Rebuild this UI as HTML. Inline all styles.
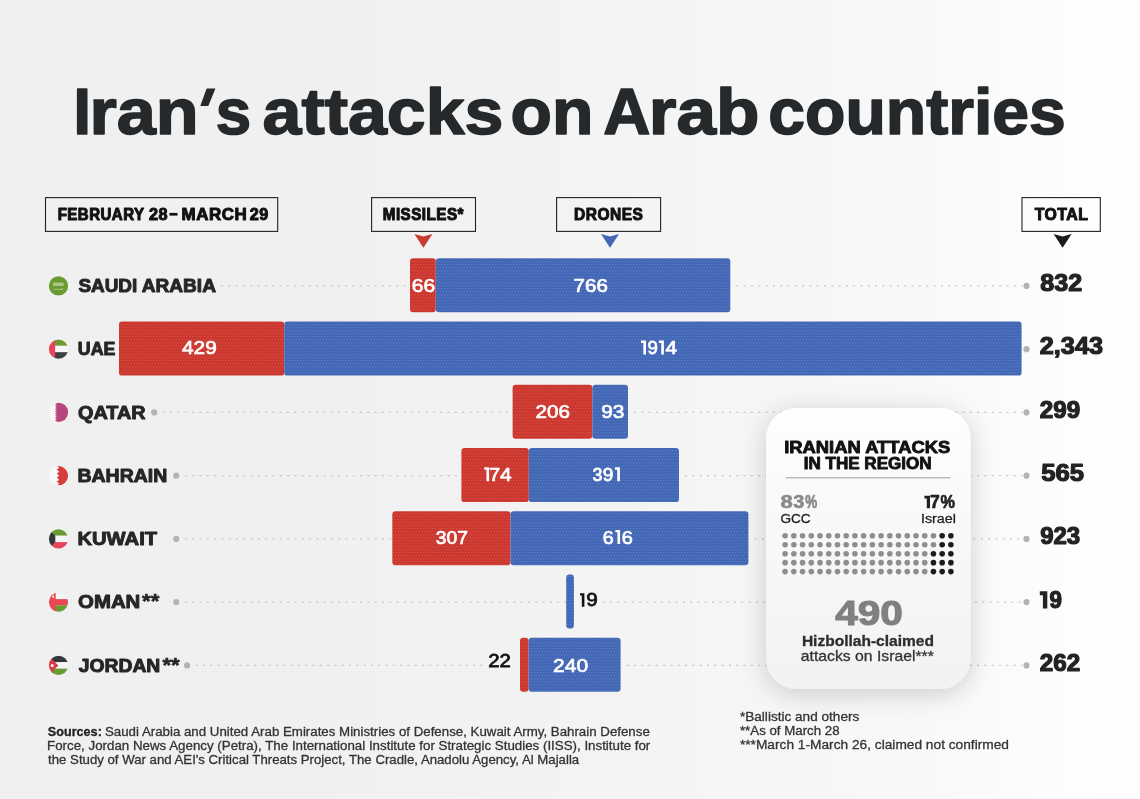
<!DOCTYPE html>
<html><head><meta charset="utf-8"><title>Iran's attacks on Arab countries</title>
<style>
html,body{margin:0;padding:0}
body{width:1140px;height:799px;overflow:hidden;position:relative;font-family:"Liberation Sans",sans-serif;font-weight:700;
background:linear-gradient(90deg,#f0f0f0 0px,#f0f0f0 280px,#f3f3f3 560px,#f8f8f8 900px,#fefefe 1100px,#fefefe 1140px)}
svg{position:absolute;left:0;top:0}
</style></head><body>
<svg width="1140" height="799" viewBox="0 0 1140 799">
<defs>
<pattern id="pr" width="6" height="6" patternUnits="userSpaceOnUse"><rect width="6" height="6" fill="#c9372f"/><g fill="#dc4c42"><circle cx="0.75" cy="0.75" r="0.8"/><circle cx="3.75" cy="0.75" r="0.8"/><circle cx="2.25" cy="3.75" r="0.8"/><circle cx="5.25" cy="3.75" r="0.8"/></g></pattern>
<pattern id="pb" width="6" height="6" patternUnits="userSpaceOnUse"><rect width="6" height="6" fill="#4266b3"/><g fill="#567dc7"><circle cx="0.75" cy="0.75" r="0.8"/><circle cx="3.75" cy="0.75" r="0.8"/><circle cx="2.25" cy="3.75" r="0.8"/><circle cx="5.25" cy="3.75" r="0.8"/></g></pattern>
<linearGradient id="cg" x1="0" y1="0" x2="0" y2="1"><stop offset="0" stop-color="#fefefe"/><stop offset="0.45" stop-color="#f8f8f8"/><stop offset="1" stop-color="#f2f2f2"/></linearGradient>
<filter id="sh" x="-40%" y="-30%" width="180%" height="160%"><feDropShadow dx="0" dy="5" stdDeviation="13" flood-color="#000" flood-opacity="0.18"/></filter>
<clipPath id="fc"><circle cx="0" cy="0" r="9.6"/></clipPath>
</defs>
<line x1="221.0" y1="285.9" x2="410.0" y2="285.9" stroke="#c9c9c9" stroke-width="1.3" stroke-dasharray="2.2 5.1"/>
<line x1="736.3" y1="285.9" x2="1022.0" y2="285.9" stroke="#c9c9c9" stroke-width="1.3" stroke-dasharray="2.2 5.1"/>
<circle cx="1026.5" cy="285.9" r="3.1" fill="#b4b4b4"/>
<circle cx="1026.5" cy="349.2" r="3.1" fill="#b4b4b4"/>
<line x1="162.7" y1="412.4" x2="512.6" y2="412.4" stroke="#c9c9c9" stroke-width="1.3" stroke-dasharray="2.2 5.1"/>
<circle cx="154.2" cy="412.4" r="3.1" fill="#b4b4b4"/>
<line x1="634.0" y1="412.4" x2="1022.0" y2="412.4" stroke="#c9c9c9" stroke-width="1.3" stroke-dasharray="2.2 5.1"/>
<circle cx="1026.5" cy="412.4" r="3.1" fill="#b4b4b4"/>
<line x1="184.8" y1="475.7" x2="461.4" y2="475.7" stroke="#c9c9c9" stroke-width="1.3" stroke-dasharray="2.2 5.1"/>
<circle cx="176.3" cy="475.7" r="3.1" fill="#b4b4b4"/>
<line x1="685.0" y1="475.7" x2="1022.0" y2="475.7" stroke="#c9c9c9" stroke-width="1.3" stroke-dasharray="2.2 5.1"/>
<circle cx="1026.5" cy="475.7" r="3.1" fill="#b4b4b4"/>
<line x1="184.8" y1="538.9" x2="392.3" y2="538.9" stroke="#c9c9c9" stroke-width="1.3" stroke-dasharray="2.2 5.1"/>
<circle cx="176.3" cy="538.9" r="3.1" fill="#b4b4b4"/>
<line x1="754.4" y1="538.9" x2="1022.0" y2="538.9" stroke="#c9c9c9" stroke-width="1.3" stroke-dasharray="2.2 5.1"/>
<circle cx="1026.5" cy="538.9" r="3.1" fill="#b4b4b4"/>
<line x1="184.8" y1="602.1" x2="566.2" y2="602.1" stroke="#c9c9c9" stroke-width="1.3" stroke-dasharray="2.2 5.1"/>
<circle cx="176.3" cy="602.1" r="3.1" fill="#b4b4b4"/>
<line x1="602.5" y1="602.1" x2="1022.0" y2="602.1" stroke="#c9c9c9" stroke-width="1.3" stroke-dasharray="2.2 5.1"/>
<circle cx="1026.5" cy="602.1" r="3.1" fill="#b4b4b4"/>
<line x1="195.6" y1="665.4" x2="484.0" y2="665.4" stroke="#c9c9c9" stroke-width="1.3" stroke-dasharray="2.2 5.1"/>
<circle cx="187.1" cy="665.4" r="3.1" fill="#b4b4b4"/>
<line x1="626.6" y1="665.4" x2="1022.0" y2="665.4" stroke="#c9c9c9" stroke-width="1.3" stroke-dasharray="2.2 5.1"/>
<circle cx="1026.5" cy="665.4" r="3.1" fill="#b4b4b4"/>
<rect x="410.0" y="258.3" width="25.8" height="54.0" rx="3.2" fill="url(#pr)"/>
<rect x="435.8" y="258.3" width="294.5" height="54.0" rx="3.2" fill="url(#pb)"/>
<rect x="119.0" y="321.6" width="165.2" height="54.0" rx="3.2" fill="url(#pr)"/>
<rect x="284.2" y="321.6" width="737.4" height="54.0" rx="3.2" fill="url(#pb)"/>
<rect x="512.6" y="384.8" width="79.7" height="54.0" rx="3.2" fill="url(#pr)"/>
<rect x="592.3" y="384.8" width="35.7" height="54.0" rx="3.2" fill="url(#pb)"/>
<rect x="461.4" y="448.1" width="67.4" height="54.0" rx="3.2" fill="url(#pr)"/>
<rect x="528.8" y="448.1" width="150.2" height="54.0" rx="3.2" fill="url(#pb)"/>
<rect x="392.3" y="511.3" width="118.2" height="54.0" rx="3.2" fill="url(#pr)"/>
<rect x="510.5" y="511.3" width="237.9" height="54.0" rx="3.2" fill="url(#pb)"/>
<rect x="566.2" y="574.5" width="7.7" height="54.0" rx="3.2" fill="url(#pb)"/>
<rect x="520.0" y="637.8" width="8.6" height="54.0" rx="3.2" fill="url(#pr)"/>
<rect x="528.6" y="637.8" width="92.0" height="54.0" rx="3.2" fill="url(#pb)"/>
<rect x="45.5" y="197.6" width="232.2" height="33.8" fill="none" stroke="#222" stroke-width="1.1"/>
<rect x="371.6" y="197.6" width="103.9" height="33.8" fill="none" stroke="#222" stroke-width="1.1"/>
<rect x="556.6" y="197.6" width="104.0" height="33.8" fill="none" stroke="#222" stroke-width="1.1"/>
<rect x="1022.0" y="197.6" width="78.3" height="33.8" fill="none" stroke="#222" stroke-width="1.1"/>
<path d="M414.4 234 L423.4 236.6 L432.4 234 L423.4 247.8 Z" fill="#c93a2f"/>
<path d="M601.0 234 L610.0 236.6 L619.0 234 L610.0 247.8 Z" fill="#4466b6"/>
<path d="M1053.6 234 L1062.6 236.6 L1071.6 234 L1062.6 247.8 Z" fill="#1a1a1a"/>
<rect x="766" y="408" width="204.6" height="281" rx="31" fill="url(#cg)" filter="url(#sh)"/>
<line x1="786" y1="477.8" x2="950.3" y2="477.8" stroke="#9a9a9a" stroke-width="1"/>
<circle cx="785.10" cy="535.80" r="2.8" fill="#8e8e8e"/>
<circle cx="793.83" cy="535.80" r="2.8" fill="#8e8e8e"/>
<circle cx="802.55" cy="535.80" r="2.8" fill="#8e8e8e"/>
<circle cx="811.28" cy="535.80" r="2.8" fill="#8e8e8e"/>
<circle cx="820.00" cy="535.80" r="2.8" fill="#8e8e8e"/>
<circle cx="828.73" cy="535.80" r="2.8" fill="#8e8e8e"/>
<circle cx="837.46" cy="535.80" r="2.8" fill="#8e8e8e"/>
<circle cx="846.18" cy="535.80" r="2.8" fill="#8e8e8e"/>
<circle cx="854.91" cy="535.80" r="2.8" fill="#8e8e8e"/>
<circle cx="863.63" cy="535.80" r="2.8" fill="#8e8e8e"/>
<circle cx="872.36" cy="535.80" r="2.8" fill="#8e8e8e"/>
<circle cx="881.09" cy="535.80" r="2.8" fill="#8e8e8e"/>
<circle cx="889.81" cy="535.80" r="2.8" fill="#8e8e8e"/>
<circle cx="898.54" cy="535.80" r="2.8" fill="#8e8e8e"/>
<circle cx="907.26" cy="535.80" r="2.8" fill="#8e8e8e"/>
<circle cx="915.99" cy="535.80" r="2.8" fill="#8e8e8e"/>
<circle cx="924.72" cy="535.80" r="2.8" fill="#8e8e8e"/>
<circle cx="933.44" cy="535.80" r="2.8" fill="#8e8e8e"/>
<circle cx="942.17" cy="535.80" r="2.8" fill="#1c1c1c"/>
<circle cx="950.89" cy="535.80" r="2.8" fill="#1c1c1c"/>
<circle cx="785.10" cy="544.75" r="2.8" fill="#8e8e8e"/>
<circle cx="793.83" cy="544.75" r="2.8" fill="#8e8e8e"/>
<circle cx="802.55" cy="544.75" r="2.8" fill="#8e8e8e"/>
<circle cx="811.28" cy="544.75" r="2.8" fill="#8e8e8e"/>
<circle cx="820.00" cy="544.75" r="2.8" fill="#8e8e8e"/>
<circle cx="828.73" cy="544.75" r="2.8" fill="#8e8e8e"/>
<circle cx="837.46" cy="544.75" r="2.8" fill="#8e8e8e"/>
<circle cx="846.18" cy="544.75" r="2.8" fill="#8e8e8e"/>
<circle cx="854.91" cy="544.75" r="2.8" fill="#8e8e8e"/>
<circle cx="863.63" cy="544.75" r="2.8" fill="#8e8e8e"/>
<circle cx="872.36" cy="544.75" r="2.8" fill="#8e8e8e"/>
<circle cx="881.09" cy="544.75" r="2.8" fill="#8e8e8e"/>
<circle cx="889.81" cy="544.75" r="2.8" fill="#8e8e8e"/>
<circle cx="898.54" cy="544.75" r="2.8" fill="#8e8e8e"/>
<circle cx="907.26" cy="544.75" r="2.8" fill="#8e8e8e"/>
<circle cx="915.99" cy="544.75" r="2.8" fill="#8e8e8e"/>
<circle cx="924.72" cy="544.75" r="2.8" fill="#8e8e8e"/>
<circle cx="933.44" cy="544.75" r="2.8" fill="#8e8e8e"/>
<circle cx="942.17" cy="544.75" r="2.8" fill="#1c1c1c"/>
<circle cx="950.89" cy="544.75" r="2.8" fill="#1c1c1c"/>
<circle cx="785.10" cy="553.70" r="2.8" fill="#8e8e8e"/>
<circle cx="793.83" cy="553.70" r="2.8" fill="#8e8e8e"/>
<circle cx="802.55" cy="553.70" r="2.8" fill="#8e8e8e"/>
<circle cx="811.28" cy="553.70" r="2.8" fill="#8e8e8e"/>
<circle cx="820.00" cy="553.70" r="2.8" fill="#8e8e8e"/>
<circle cx="828.73" cy="553.70" r="2.8" fill="#8e8e8e"/>
<circle cx="837.46" cy="553.70" r="2.8" fill="#8e8e8e"/>
<circle cx="846.18" cy="553.70" r="2.8" fill="#8e8e8e"/>
<circle cx="854.91" cy="553.70" r="2.8" fill="#8e8e8e"/>
<circle cx="863.63" cy="553.70" r="2.8" fill="#8e8e8e"/>
<circle cx="872.36" cy="553.70" r="2.8" fill="#8e8e8e"/>
<circle cx="881.09" cy="553.70" r="2.8" fill="#8e8e8e"/>
<circle cx="889.81" cy="553.70" r="2.8" fill="#8e8e8e"/>
<circle cx="898.54" cy="553.70" r="2.8" fill="#8e8e8e"/>
<circle cx="907.26" cy="553.70" r="2.8" fill="#8e8e8e"/>
<circle cx="915.99" cy="553.70" r="2.8" fill="#8e8e8e"/>
<circle cx="924.72" cy="553.70" r="2.8" fill="#8e8e8e"/>
<circle cx="933.44" cy="553.70" r="2.8" fill="#1c1c1c"/>
<circle cx="942.17" cy="553.70" r="2.8" fill="#1c1c1c"/>
<circle cx="950.89" cy="553.70" r="2.8" fill="#1c1c1c"/>
<circle cx="785.10" cy="562.65" r="2.8" fill="#8e8e8e"/>
<circle cx="793.83" cy="562.65" r="2.8" fill="#8e8e8e"/>
<circle cx="802.55" cy="562.65" r="2.8" fill="#8e8e8e"/>
<circle cx="811.28" cy="562.65" r="2.8" fill="#8e8e8e"/>
<circle cx="820.00" cy="562.65" r="2.8" fill="#8e8e8e"/>
<circle cx="828.73" cy="562.65" r="2.8" fill="#8e8e8e"/>
<circle cx="837.46" cy="562.65" r="2.8" fill="#8e8e8e"/>
<circle cx="846.18" cy="562.65" r="2.8" fill="#8e8e8e"/>
<circle cx="854.91" cy="562.65" r="2.8" fill="#8e8e8e"/>
<circle cx="863.63" cy="562.65" r="2.8" fill="#8e8e8e"/>
<circle cx="872.36" cy="562.65" r="2.8" fill="#8e8e8e"/>
<circle cx="881.09" cy="562.65" r="2.8" fill="#8e8e8e"/>
<circle cx="889.81" cy="562.65" r="2.8" fill="#8e8e8e"/>
<circle cx="898.54" cy="562.65" r="2.8" fill="#8e8e8e"/>
<circle cx="907.26" cy="562.65" r="2.8" fill="#8e8e8e"/>
<circle cx="915.99" cy="562.65" r="2.8" fill="#8e8e8e"/>
<circle cx="924.72" cy="562.65" r="2.8" fill="#8e8e8e"/>
<circle cx="933.44" cy="562.65" r="2.8" fill="#1c1c1c"/>
<circle cx="942.17" cy="562.65" r="2.8" fill="#1c1c1c"/>
<circle cx="950.89" cy="562.65" r="2.8" fill="#1c1c1c"/>
<circle cx="785.10" cy="571.60" r="2.8" fill="#8e8e8e"/>
<circle cx="793.83" cy="571.60" r="2.8" fill="#8e8e8e"/>
<circle cx="802.55" cy="571.60" r="2.8" fill="#8e8e8e"/>
<circle cx="811.28" cy="571.60" r="2.8" fill="#8e8e8e"/>
<circle cx="820.00" cy="571.60" r="2.8" fill="#8e8e8e"/>
<circle cx="828.73" cy="571.60" r="2.8" fill="#8e8e8e"/>
<circle cx="837.46" cy="571.60" r="2.8" fill="#8e8e8e"/>
<circle cx="846.18" cy="571.60" r="2.8" fill="#8e8e8e"/>
<circle cx="854.91" cy="571.60" r="2.8" fill="#8e8e8e"/>
<circle cx="863.63" cy="571.60" r="2.8" fill="#8e8e8e"/>
<circle cx="872.36" cy="571.60" r="2.8" fill="#8e8e8e"/>
<circle cx="881.09" cy="571.60" r="2.8" fill="#8e8e8e"/>
<circle cx="889.81" cy="571.60" r="2.8" fill="#8e8e8e"/>
<circle cx="898.54" cy="571.60" r="2.8" fill="#8e8e8e"/>
<circle cx="907.26" cy="571.60" r="2.8" fill="#8e8e8e"/>
<circle cx="915.99" cy="571.60" r="2.8" fill="#8e8e8e"/>
<circle cx="924.72" cy="571.60" r="2.8" fill="#8e8e8e"/>
<circle cx="933.44" cy="571.60" r="2.8" fill="#1c1c1c"/>
<circle cx="942.17" cy="571.60" r="2.8" fill="#1c1c1c"/>
<circle cx="950.89" cy="571.60" r="2.8" fill="#1c1c1c"/>
<g transform="translate(58.5 285.9)"><g clip-path="url(#fc)"><g opacity="0.999"><rect x="-10" y="-10" width="20" height="20" fill="#6a9b30"/><rect x="-5.6" y="-3.3" width="10.8" height="3.4" rx="0.8" fill="#e9f2dc" opacity="0.5"/><rect x="-4.6" y="2.9" width="8.6" height="0.8" fill="#e9f2dc" opacity="0.6"/><rect x="3" y="2.4" width="1" height="1.8" fill="#e9f2dc" opacity="0.6"/></g></g></g>
<g transform="translate(58.5 349.2)"><g clip-path="url(#fc)"><g opacity="0.999"><rect x="-10" y="-10" width="20" height="6.6" fill="#6a9b30"/><rect x="-10" y="-3.4" width="20" height="6.4" fill="#f6f6f6"/><rect x="-10" y="3" width="20" height="7" fill="#3b4040"/><rect x="-10" y="-10" width="6.6" height="20" fill="#ea4258"/></g></g></g>
<g transform="translate(58.5 412.4)"><g clip-path="url(#fc)"><g opacity="0.999"><rect x="-10" y="-10" width="20" height="20" fill="#b8457c"/><path d="M-10 -10 L-3.6 -10 L-1.7 -8.89 L-3.6 -7.78 L-1.7 -6.67 L-3.6 -5.56 L-1.7 -4.44 L-3.6 -3.33 L-1.7 -2.22 L-3.6 -1.11 L-1.7 0.00 L-3.6 1.11 L-1.7 2.22 L-3.6 3.33 L-1.7 4.44 L-3.6 5.56 L-1.7 6.67 L-3.6 7.78 L-1.7 8.89 L-3.6 10.00 L-3.6 10 L-10 10 Z" fill="#f8f8f8"/></g></g></g>
<g transform="translate(58.5 475.7)"><g clip-path="url(#fc)"><g opacity="0.999"><rect x="-10" y="-10" width="20" height="20" fill="#d63d3f"/><path d="M-10 -10 L-1.7 -10 L0.7 -8.00 L-1.7 -6.00 L0.7 -4.00 L-1.7 -2.00 L0.7 0.00 L-1.7 2.00 L0.7 4.00 L-1.7 6.00 L0.7 8.00 L-1.7 10.00 L-10 10 Z" fill="#f9f9f9"/></g></g></g>
<g transform="translate(58.5 538.9)"><g clip-path="url(#fc)"><g opacity="0.999"><rect x="-10" y="-10" width="20" height="6.8" fill="#6a9b30"/><rect x="-10" y="-3.2" width="20" height="6.4" fill="#f6f6f6"/><rect x="-10" y="3.2" width="20" height="7" fill="#ea4258"/><path d="M-10 -10 L-3.2 -3.2 L-3.2 3.2 L-10 10 Z" fill="#343a3a"/></g></g></g>
<g transform="translate(58.5 602.1)"><g clip-path="url(#fc)"><g opacity="0.999"><rect x="-10" y="-10" width="20" height="7" fill="#f5f5f5"/><rect x="-10" y="-3" width="20" height="6.2" fill="#ea4655"/><rect x="-10" y="3.2" width="20" height="7" fill="#6a9b30"/><rect x="-10" y="-10" width="7.2" height="20" fill="#ea4655"/><path d="M-7.2 -5 L-4.6 -7.4 L-4.4 -4.2 Z" fill="#f6dede"/></g></g></g>
<g transform="translate(58.5 665.4)"><g clip-path="url(#fc)"><g opacity="0.999"><rect x="-10" y="-10" width="20" height="6.8" fill="#333838"/><rect x="-10" y="-3.2" width="20" height="6.4" fill="#f6f6f6"/><rect x="-10" y="3.2" width="20" height="7" fill="#6a9b30"/><path d="M-10 -10 L-0.2 0 L-10 10 Z" fill="#d93c48"/><circle cx="-6.3" cy="0.2" r="1.5" fill="#fff"/></g></g></g>
<g font-family="Liberation Sans, sans-serif" font-weight="700" stroke-linejoin="round" opacity="0.999">
<text transform="translate(73.58 134.20) scale(0.9611 1)" font-size="65.26" fill="#26292b" stroke="#26292b" stroke-width="1.6" vector-effect="non-scaling-stroke">I</text>
<text transform="translate(89.42 134.20) scale(1.0711 1)" font-size="65.50" fill="#26292b" stroke="#26292b" stroke-width="1.6" vector-effect="non-scaling-stroke">ran</text>
<text transform="translate(215.81 134.20) scale(0.9708 1)" font-size="65.50" fill="#26292b" stroke="#26292b" stroke-width="1.6" vector-effect="non-scaling-stroke">s</text>
<text transform="translate(262.51 134.20) scale(1.0672 1)" font-size="65.50" fill="#26292b" stroke="#26292b" stroke-width="1.6" vector-effect="non-scaling-stroke">attacks</text>
<text transform="translate(510.58 134.20) scale(1.0347 1)" font-size="65.50" fill="#26292b" stroke="#26292b" stroke-width="1.6" vector-effect="non-scaling-stroke">on</text>
<text transform="translate(603.28 134.20) scale(1.0007 1)" font-size="65.26" fill="#26292b" stroke="#26292b" stroke-width="1.6" vector-effect="non-scaling-stroke">A</text>
<text transform="translate(648.86 134.20) scale(1.0858 1)" font-size="65.50" fill="#26292b" stroke="#26292b" stroke-width="1.6" vector-effect="non-scaling-stroke">rab</text>
<text transform="translate(768.33 134.20) scale(1.0093 1)" font-size="65.50" fill="#26292b" stroke="#26292b" stroke-width="1.6" vector-effect="non-scaling-stroke">countries</text>
<text transform="translate(57.66 220.00) scale(0.9178 1)" font-size="16.42" fill="#111" letter-spacing="0.5" stroke="#111" stroke-width="1.0" vector-effect="non-scaling-stroke">FEBRUARY</text>
<text transform="translate(148.89 220.00) scale(0.9918 1)" font-size="16.42" fill="#111" letter-spacing="0.5" stroke="#111" stroke-width="1.0" vector-effect="non-scaling-stroke">28</text>
<text transform="translate(181.54 220.00) scale(1.0325 1)" font-size="16.42" fill="#111" letter-spacing="0.5" stroke="#111" stroke-width="1.0" vector-effect="non-scaling-stroke">MARCH</text>
<text transform="translate(249.69 220.00) scale(0.9862 1)" font-size="16.42" fill="#111" letter-spacing="0.5" stroke="#111" stroke-width="1.0" vector-effect="non-scaling-stroke">29</text>
<text transform="translate(382.75 220.00) scale(0.9274 1)" font-size="16.42" fill="#111" letter-spacing="0.5" stroke="#111" stroke-width="1.0" vector-effect="non-scaling-stroke">MISSILES*</text>
<text transform="translate(574.03 220.00) scale(0.9466 1)" font-size="16.42" fill="#111" letter-spacing="0.5" stroke="#111" stroke-width="1.0" vector-effect="non-scaling-stroke">DRONES</text>
<text transform="translate(1034.70 220.00) scale(0.9647 1)" font-size="16.42" fill="#111" letter-spacing="0.5" stroke="#111" stroke-width="1.0" vector-effect="non-scaling-stroke">TOTAL</text>
<text transform="translate(78.40 292.00) scale(1.0021 1)" font-size="18.90" fill="#262626" stroke="#262626" stroke-width="1.0" vector-effect="non-scaling-stroke">SAUDI</text>
<text transform="translate(77.87 355.25) scale(0.9426 1)" font-size="18.90" fill="#262626" stroke="#262626" stroke-width="1.0" vector-effect="non-scaling-stroke">UAE</text>
<text transform="translate(78.08 418.50) scale(1.0501 1)" font-size="18.90" fill="#262626" stroke="#262626" stroke-width="1.0" vector-effect="non-scaling-stroke">QATAR</text>
<text transform="translate(77.48 481.75) scale(1.0319 1)" font-size="18.90" fill="#262626" stroke="#262626" stroke-width="1.0" vector-effect="non-scaling-stroke">BAHRAIN</text>
<text transform="translate(77.44 545.00) scale(1.0694 1)" font-size="18.90" fill="#262626" stroke="#262626" stroke-width="1.0" vector-effect="non-scaling-stroke">KUWAIT</text>
<text transform="translate(78.06 608.25) scale(1.0789 1)" font-size="18.90" fill="#262626" stroke="#262626" stroke-width="1.0" vector-effect="non-scaling-stroke">OMAN</text>
<text transform="translate(78.70 671.50) scale(1.0224 1)" font-size="18.90" fill="#262626" stroke="#262626" stroke-width="1.0" vector-effect="non-scaling-stroke">JORDAN</text>
<text transform="translate(141.80 292.00) scale(1.0093 1)" font-size="18.90" fill="#262626" stroke="#262626" stroke-width="1.0" vector-effect="non-scaling-stroke">ARABIA</text>
<text transform="translate(142.10 608.45) scale(1.1391 1)" font-size="19.48" fill="#262626" stroke="#262626" stroke-width="0.6" vector-effect="non-scaling-stroke">**</text>
<text transform="translate(162.40 671.70) scale(1.1391 1)" font-size="19.48" fill="#262626" stroke="#262626" stroke-width="0.6" vector-effect="non-scaling-stroke">**</text>
<text transform="translate(411.69 291.73) scale(1.0918 1)" font-size="19.26" fill="#fff" font-weight="400" stroke="#fff" stroke-width="0.75" vector-effect="non-scaling-stroke">66</text>
<text transform="translate(573.61 291.73) scale(1.0657 1)" font-size="19.26" fill="#fff" font-weight="400" stroke="#fff" stroke-width="0.75" vector-effect="non-scaling-stroke">766</text>
<text transform="translate(182.05 354.32) scale(1.0805 1)" font-size="19.26" fill="#fff" font-weight="400" stroke="#fff" stroke-width="0.75" vector-effect="non-scaling-stroke">429</text>
<text transform="translate(535.51 417.93) scale(1.0723 1)" font-size="19.26" fill="#fff" font-weight="400" stroke="#fff" stroke-width="0.75" vector-effect="non-scaling-stroke">206</text>
<text transform="translate(601.20 417.93) scale(1.0817 1)" font-size="19.26" fill="#fff" font-weight="400" stroke="#fff" stroke-width="0.75" vector-effect="non-scaling-stroke">93</text>
<text transform="translate(435.87 543.83) scale(1.0033 1)" font-size="19.26" fill="#fff" font-weight="400" stroke="#fff" stroke-width="0.75" vector-effect="non-scaling-stroke">307</text>
<text transform="translate(553.09 672.02) scale(1.0911 1)" font-size="19.26" fill="#fff" font-weight="400" stroke="#fff" stroke-width="0.75" vector-effect="non-scaling-stroke">240</text>
<text transform="translate(647.40 354.23) scale(0.9693 1)" font-size="19.26" fill="#fff" font-weight="400" stroke="#fff" stroke-width="0.75" vector-effect="non-scaling-stroke">9</text>
<text transform="translate(665.55 354.23) scale(1.0825 1)" font-size="19.26" fill="#fff" font-weight="400" stroke="#fff" stroke-width="0.75" vector-effect="non-scaling-stroke">4</text>
<text transform="translate(489.03 480.93) scale(1.0468 1)" font-size="19.26" fill="#fff" font-weight="400" stroke="#fff" stroke-width="0.75" vector-effect="non-scaling-stroke">7</text>
<text transform="translate(500.05 480.93) scale(1.0825 1)" font-size="19.26" fill="#fff" font-weight="400" stroke="#fff" stroke-width="0.75" vector-effect="non-scaling-stroke">4</text>
<text transform="translate(592.42 480.93) scale(0.9273 1)" font-size="19.26" fill="#fff" font-weight="400" stroke="#fff" stroke-width="0.75" vector-effect="non-scaling-stroke">3</text>
<text transform="translate(602.68 480.93) scale(0.9914 1)" font-size="19.26" fill="#fff" font-weight="400" stroke="#fff" stroke-width="0.75" vector-effect="non-scaling-stroke">9</text>
<text transform="translate(602.65 543.62) scale(1.0246 1)" font-size="19.26" fill="#fff" font-weight="400" stroke="#fff" stroke-width="0.75" vector-effect="non-scaling-stroke">6</text>
<text transform="translate(621.64 543.62) scale(1.0357 1)" font-size="19.26" fill="#fff" font-weight="400" stroke="#fff" stroke-width="0.75" vector-effect="non-scaling-stroke">6</text>
<text transform="translate(586.13 606.40) scale(1.1123 1)" font-size="18.60" fill="#111" font-weight="400" stroke="#111" stroke-width="0.8" vector-effect="non-scaling-stroke">9</text>
<text transform="translate(488.24 667.30) scale(1.1047 1)" font-size="18.46" fill="#111" font-weight="400" stroke="#111" stroke-width="0.8" vector-effect="non-scaling-stroke">22</text>
<text transform="translate(1040.32 290.65) scale(1.0775 1)" font-size="23.26" fill="#232323" stroke="#232323" stroke-width="1.2" vector-effect="non-scaling-stroke">832</text>
<text transform="translate(1039.81 354.20) scale(1.0863 1)" font-size="23.26" fill="#232323" stroke="#232323" stroke-width="1.2" vector-effect="non-scaling-stroke">2,343</text>
<text transform="translate(1039.84 417.90) scale(1.0401 1)" font-size="23.26" fill="#232323" stroke="#232323" stroke-width="1.2" vector-effect="non-scaling-stroke">299</text>
<text transform="translate(1041.30 481.20) scale(1.1041 1)" font-size="23.26" fill="#232323" stroke="#232323" stroke-width="1.2" vector-effect="non-scaling-stroke">565</text>
<text transform="translate(1040.15 544.40) scale(1.0321 1)" font-size="23.26" fill="#232323" stroke="#232323" stroke-width="1.2" vector-effect="non-scaling-stroke">923</text>
<text transform="translate(1039.84 671.30) scale(1.0401 1)" font-size="23.26" fill="#232323" stroke="#232323" stroke-width="1.2" vector-effect="non-scaling-stroke">262</text>
<text transform="translate(1049.40 607.90) scale(0.9632 1)" font-size="23.26" fill="#232323" stroke="#232323" stroke-width="1.2" vector-effect="non-scaling-stroke">9</text>
<text transform="translate(784.20 452.75) scale(1.0906 1)" font-size="16.86" fill="#111" stroke="#111" stroke-width="0.9" vector-effect="non-scaling-stroke">IRANIAN ATTACKS</text>
<text transform="translate(803.68 468.65) scale(1.0129 1)" font-size="16.86" fill="#111" stroke="#111" stroke-width="0.9" vector-effect="non-scaling-stroke">IN THE REGION</text>
<text transform="translate(780.51 508.00) scale(1.2613 1)" font-size="17.44" fill="#8a8a8a" stroke="#8a8a8a" stroke-width="0.6" vector-effect="non-scaling-stroke">8</text>
<text transform="translate(793.29 508.00) scale(1.1453 1)" font-size="17.44" fill="#8a8a8a" stroke="#8a8a8a" stroke-width="0.6" vector-effect="non-scaling-stroke">3</text>
<text transform="translate(805.29 508.00) scale(0.7739 1)" font-size="17.44" fill="#8a8a8a" stroke="#8a8a8a" stroke-width="0.6" vector-effect="non-scaling-stroke">%</text>
<text transform="translate(929.95 508.00) scale(1.0061 1)" font-size="17.44" fill="#222" stroke="#222" stroke-width="0.6" vector-effect="non-scaling-stroke">7</text>
<text transform="translate(940.55 508.00) scale(0.9340 1)" font-size="17.44" fill="#222" stroke="#222" stroke-width="0.6" vector-effect="non-scaling-stroke">%</text>
<text transform="translate(780.41 523.05) scale(1.0428 1)" font-size="13.08" fill="#222" font-weight="400" stroke="#222" stroke-width="0.3" vector-effect="non-scaling-stroke">GCC</text>
<text transform="translate(920.93 523.05) scale(1.0929 1)" font-size="13.08" fill="#222" font-weight="400" stroke="#222" stroke-width="0.3" vector-effect="non-scaling-stroke">Israel</text>
<text transform="translate(835.20 624.80) scale(1.1738 1)" font-size="34.59" fill="#808080" stroke="#808080" stroke-width="1.2" vector-effect="non-scaling-stroke">490</text>
<text transform="translate(801.88 645.55) scale(1.1027 1)" font-size="14.10" fill="#2e2e2e" stroke="#2e2e2e" stroke-width="0.3" vector-effect="non-scaling-stroke">Hizbollah-claimed</text>
<text transform="translate(800.76 661.05) scale(1.1175 1)" font-size="14.10" fill="#333" font-weight="400" stroke="#333" stroke-width="0.3" vector-effect="non-scaling-stroke">attacks on Israel***</text>
<text transform="translate(739.94 721.45) scale(1.0746 1)" font-size="12.65" fill="#333" font-weight="400" stroke="#333" stroke-width="0.3" vector-effect="non-scaling-stroke">*Ballistic and others</text>
<text transform="translate(739.94 735.35) scale(1.0502 1)" font-size="12.65" fill="#333" font-weight="400" stroke="#333" stroke-width="0.3" vector-effect="non-scaling-stroke">**As of March 28</text>
<text transform="translate(739.94 749.35) scale(1.0846 1)" font-size="12.65" fill="#333" font-weight="400" stroke="#333" stroke-width="0.3" vector-effect="non-scaling-stroke">***March 1-March 26, claimed not confirmed</text>
<text transform="translate(47.85 736.05) scale(0.9988 1)" font-size="12.65" fill="#222" stroke="#222" stroke-width="0.3" vector-effect="non-scaling-stroke">Sources:</text>
<text transform="translate(104.93 736.05) scale(1.0512 1)" font-size="12.65" fill="#333" font-weight="400" stroke="#333" stroke-width="0.3" vector-effect="non-scaling-stroke">Saudi Arabia and United Arab Emirates Ministries of Defense, Kuwait Army, Bahrain Defense</text>
<text transform="translate(47.01 750.15) scale(1.0544 1)" font-size="12.65" fill="#333" font-weight="400" stroke="#333" stroke-width="0.3" vector-effect="non-scaling-stroke">Force, Jordan News Agency (Petra), The International Institute for Strategic Studies (IISS), Institute for</text>
<text transform="translate(48.05 764.15) scale(1.0448 1)" font-size="12.65" fill="#333" font-weight="400" stroke="#333" stroke-width="0.3" vector-effect="non-scaling-stroke">the Study of War and AEI's Critical Threats Project, The Cradle, Anadolu Agency, Al Majalla</text>
<path d="M206.6 88.4H215.4L208.3 106H200.3Z" fill="#26292b"/>
<rect x="169.4" y="212.9" width="8.1" height="2.7" fill="#111"/>
<path d="M641.00 340.60H646.00V354.60H643.34V342.94H641.00Z" fill="#fff"/>
<path d="M658.90 340.60H663.90V354.60H661.24V342.94H658.90Z" fill="#fff"/>
<path d="M484.20 467.30H489.10V481.30H486.44V469.64H484.20Z" fill="#fff"/>
<path d="M614.90 467.30H619.90V481.30H617.24V469.64H614.90Z" fill="#fff"/>
<path d="M615.40 530.00H620.10V544.00H617.44V532.34H615.40Z" fill="#fff"/>
<path d="M580.00 593.20H584.40V606.80H581.82V595.47H580.00Z" fill="#111"/>
<path d="M1039.80 591.30H1047.30V608.50H1042.91V595.16H1039.80Z" fill="#232323"/>
<path d="M924.40 495.70H930.00V508.30H926.79V498.53H924.40Z" fill="#222"/>
</g>
</svg>
</body></html>
